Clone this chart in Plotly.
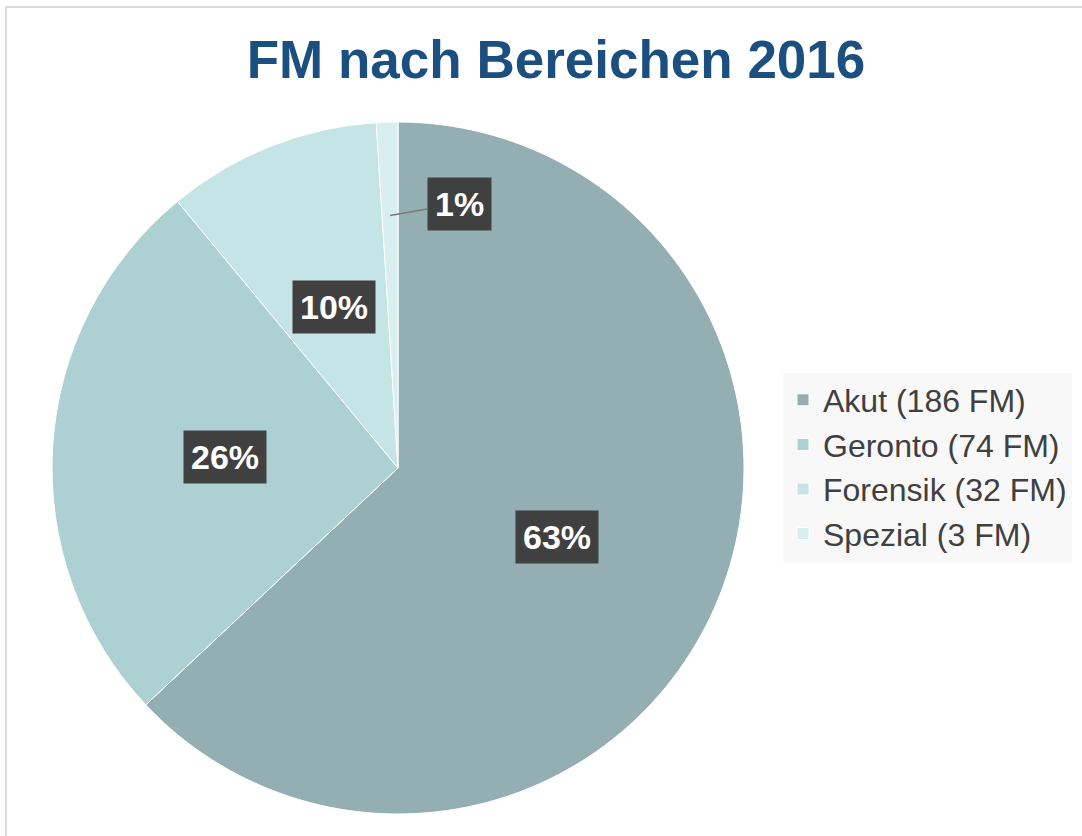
import math
import plotly.graph_objects as go

# ---- data ----
categories = ["Akut (186 FM)", "Geronto (74 FM)", "Forensik (32 FM)", "Spezial (3 FM)"]
shares = [63, 26, 10, 1]          # percent shares as drawn
pct_labels = ["63%", "26%", "10%", "1%"]
colors = ["#93AFB1", "#ADD1D3", "#C5E4E6", "#D8EEEF"]

W, H = 1082, 836
# pie placement (pixels)
px_left, px_right, px_top, px_bottom = 52, 744, 122, 814
dom_x = [px_left / W, px_right / W]
dom_y = [1 - px_bottom / H, 1 - px_top / H]
cx = (dom_x[0] + dom_x[1]) / 2
cy = (dom_y[0] + dom_y[1]) / 2
R = (px_right - px_left) / 2
rx, ry = R / W, R / H

fig = go.Figure(go.Pie(
    labels=categories, values=shares, sort=False, direction="clockwise",
    rotation=0, marker=dict(colors=colors, line=dict(color="white", width=1)),
    textinfo="none", hoverinfo="label+percent",
    domain=dict(x=dom_x, y=dom_y),
))

LBL_FONT = "Liberation Sans"
LBL_SIZE = 34
total = sum(shares)
annotations = []
cum = 0
for v, lab in zip(shares, pct_labels):
    mid = (cum + v / 2) / total * 2 * math.pi
    cum += v
    small = v / total < 0.03
    rf = 0.73 if small else 0.5
    x = cx + rf * rx * math.sin(mid)
    y = cy + rf * ry * math.cos(mid)
    ann = dict(xref="paper", yref="paper", x=x, y=y, text=f"<b>{lab}</b>", borderpad=7,
               xanchor="center", yanchor="middle", bgcolor="#404040",
               font=dict(family=LBL_FONT, size=LBL_SIZE, color="white"))
    if small:
        ann.update(showarrow=True, ax=69, ay=-12, arrowhead=0, arrowwidth=1.5, arrowcolor="#7A7A7A")
    else:
        ann.update(showarrow=False)
    annotations.append(ann)

fig.update_layout(
    width=W, height=H,
    margin=dict(l=0, r=0, t=0, b=0),
    paper_bgcolor="white",
    title=dict(text="<b>FM nach Bereichen 2016</b>", x=556 / W, xanchor="center", y=1 - 59 / H, yanchor="middle",
               font=dict(family="Liberation Sans", size=53, color="#1B4F80")),
    legend=dict(x=783 / W, xanchor="left", y=1 - 467 / H, yanchor="middle",
                bgcolor="#F8F8F8", font=dict(family="Liberation Sans", size=32, color="#404040"),
                traceorder="normal"),
    annotations=annotations,
    shapes=[dict(type="rect", xref="paper", yref="paper", x0=6 / W, x1=1.02, y0=-0.02, y1=1 - 7 / H,
                 line=dict(color="#D0D0D0", width=1.5), layer="below")],
)

fig.write_html("out.html", config={"displayModeBar": False},
               post_script="document.body.style.margin='0';")
